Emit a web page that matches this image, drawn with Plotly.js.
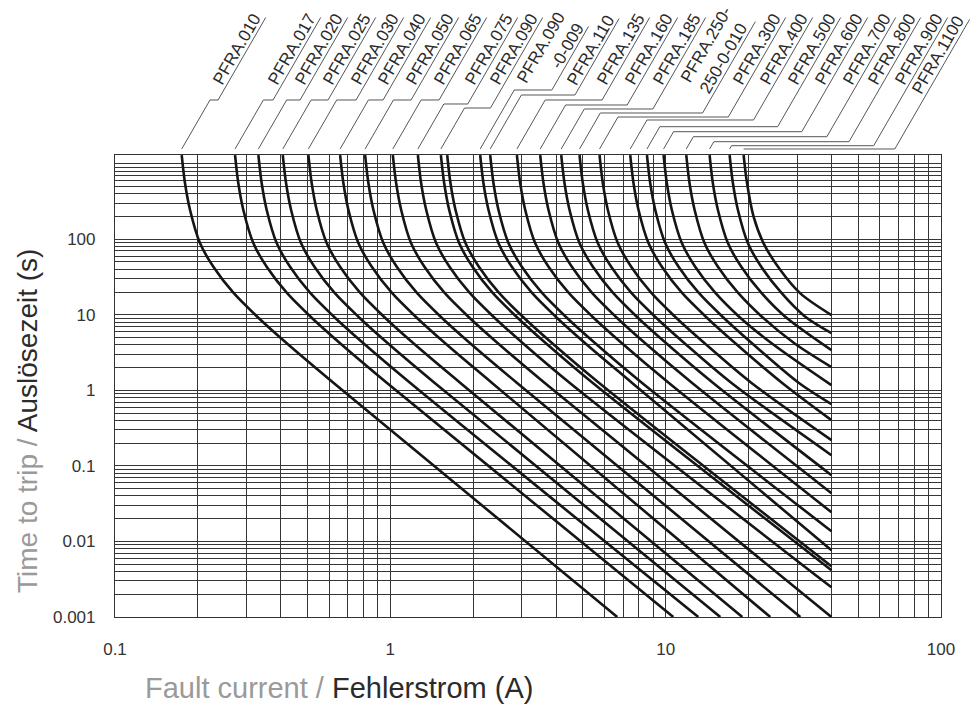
<!DOCTYPE html>
<html>
<head>
<meta charset="utf-8">
<script src="https://cdn.plot.ly/plotly-3.0.1.min.js"></script>
<style>
html,body{margin:0;padding:0;background:#fff;}
#chart{width:971px;height:709px;}
</style>
</head>
<body>
<div id="chart"></div>
<script>
// ---------- DATA: trip curves (current in A, time in s) ----------
const cur01 = [0.1747, 0.1796, 0.1873, 0.2037, 0.2276, 0.2690, 0.3272, 0.4205, 0.6211, 6.67];
const trip01 = [1300, 550, 244, 88.3, 43.2, 19.6, 9.58, 4.20, 1.26, 0.001];
const cur02 = [0.2729, 0.2805, 0.2925, 0.3182, 0.3556, 0.4203, 0.5111, 0.6569, 0.9702, 10.66];
const trip02 = [1300, 550, 244, 88.3, 43.2, 19.6, 9.58, 4.20, 1.26, 0.001];
const cur03 = [0.3317, 0.3410, 0.3556, 0.3868, 0.4322, 0.5108, 0.6213, 0.7984, 1.179, 13.14];
const trip03 = [1300, 550, 244, 88.3, 43.2, 19.6, 9.58, 4.20, 1.26, 0.001];
const cur04 = [0.4068, 0.4182, 0.4361, 0.4743, 0.5301, 0.6265, 0.7619, 0.9792, 1.446, 15.79];
const trip04 = [1300, 550, 244, 88.3, 43.2, 19.6, 9.58, 4.20, 1.26, 0.001];
const cur05 = [0.5040, 0.5181, 0.5403, 0.5877, 0.6567, 0.7762, 0.9440, 1.213, 1.792, 18.98];
const trip05 = [1300, 550, 244, 88.3, 43.2, 19.6, 9.58, 4.20, 1.26, 0.001];
const cur06 = [0.6571, 0.6755, 0.7044, 0.7662, 0.8562, 1.012, 1.231, 1.582, 2.336, 23.99];
const trip06 = [1300, 550, 244, 88.3, 43.2, 19.6, 9.58, 4.20, 1.26, 0.001];
const cur07 = [0.8099, 0.8326, 0.8682, 0.9443, 1.055, 1.247, 1.517, 1.949, 2.879, 30.84];
const trip07 = [1300, 550, 244, 88.3, 43.2, 19.6, 9.58, 4.20, 1.26, 0.001];
const cur08 = [1.021, 1.050, 1.095, 1.190, 1.330, 1.572, 1.912, 2.458, 3.630, 40];
const trip08 = [1300, 550, 244, 88.3, 43.2, 19.6, 9.58, 4.20, 1.26, 0.001];
const cur09 = [1.259, 1.294, 1.350, 1.468, 1.640, 1.939, 2.358, 3.030, 4.476, 40];
const trip09 = [1300, 550, 244, 88.3, 43.2, 19.6, 9.58, 4.20, 1.26, 0.00247];
const cur10 = [1.526, 1.569, 1.636, 1.779, 1.988, 2.350, 2.858, 3.673, 5.425, 40];
const trip10 = [1300, 550, 244, 88.3, 43.2, 19.6, 9.58, 4.20, 1.26, 0.00416];
const cur10b = [1.609, 1.654, 1.725, 1.876, 2.097, 2.478, 3.014, 3.873, 5.720, 40];
const trip10b = [1300, 550, 244, 88.3, 43.2, 19.6, 9.58, 4.20, 1.26, 0.00469];
const cur11 = [2.120, 2.179, 2.273, 2.472, 2.762, 3.265, 3.971, 5.103, 7.537, 40];
const trip11 = [1300, 550, 244, 88.3, 43.2, 19.6, 9.58, 4.20, 1.26, 0.00765];
const cur12 = [2.305, 2.370, 2.471, 2.688, 3.003, 3.550, 4.317, 5.548, 8.194, 40];
const trip12 = [1300, 550, 244, 88.3, 43.2, 19.6, 9.58, 4.20, 1.26, 0.01365];
const cur13 = [2.882, 2.963, 3.090, 3.360, 3.755, 4.438, 5.398, 6.937, 10.25, 40];
const trip13 = [1300, 550, 244, 88.3, 43.2, 19.6, 9.58, 4.20, 1.26, 0.02436];
const cur14 = [3.502, 3.600, 3.754, 4.083, 4.563, 5.393, 6.559, 8.429, 12.45, 40];
const trip14 = [1300, 550, 244, 88.3, 43.2, 19.6, 9.58, 4.20, 1.26, 0.0435];
const cur15 = [4.175, 4.292, 4.476, 4.868, 5.440, 6.430, 7.820, 10.05, 14.84, 40];
const trip15 = [1300, 550, 244, 88.3, 43.2, 19.6, 9.58, 4.20, 1.26, 0.0753];
const cur16 = [4.866, 5.002, 5.216, 5.674, 6.340, 7.494, 9.114, 11.71, 17.30, 40];
const trip16 = [1300, 550, 244, 88.3, 43.2, 19.6, 9.58, 4.20, 1.26, 0.1386];
const cur17 = [5.752, 5.913, 6.166, 6.707, 7.495, 8.858, 10.77, 13.85, 20.45, 40];
const trip17 = [1300, 550, 244, 88.3, 43.2, 19.6, 9.58, 4.20, 1.26, 0.219];
const cur18 = [7.435, 7.643, 7.970, 8.669, 9.688, 11.45, 13.93, 17.90, 26.43, 40];
const trip18 = [1300, 550, 244, 88.3, 43.2, 19.6, 9.58, 4.20, 1.26, 0.403];
const cur19 = [8.551, 8.790, 9.167, 9.970, 11.14, 13.17, 16.02, 20.58, 30.40, 40];
const trip19 = [1300, 550, 244, 88.3, 43.2, 19.6, 9.58, 4.20, 1.26, 0.657];
const cur20 = [9.826, 10.10, 10.53, 11.46, 12.80, 15.13, 18.40, 24.26, 40];
const trip20 = [1300, 550, 244, 88.3, 43.2, 19.6, 9.58, 4.20, 1.172];
const cur21 = [11.88, 12.21, 12.74, 13.85, 15.48, 18.30, 22.25, 29.33, 40];
const trip21 = [1300, 550, 244, 88.3, 43.2, 19.6, 9.58, 4.20, 2.03];
const cur22 = [14.44, 14.84, 15.48, 16.84, 18.82, 22.24, 27.05, 40];
const trip22 = [1300, 550, 244, 88.3, 43.2, 19.6, 9.58, 3.41];
const cur23 = [17.07, 17.55, 18.30, 19.90, 22.24, 26.29, 31.97, 40];
const trip23 = [1300, 550, 244, 88.3, 43.2, 19.6, 9.58, 5.72];
const cur24 = [19.19, 19.75, 20.86, 22.68, 26.09, 30.84, 40];
const trip24 = [1300, 550, 199, 88.3, 39.1, 19.2, 9.91];

// ---------- labels ----------
const LABELS = ["PFRA.010","PFRA.017","PFRA.020","PFRA.025","PFRA.030","PFRA.040","PFRA.050",
  "PFRA.065","PFRA.075","PFRA.090","PFRA.090<br>-0-009","PFRA.110","PFRA.135","PFRA.160",
  "PFRA.185","PFRA.250-<br>250-0-010","PFRA.300","PFRA.400","PFRA.500","PFRA.600","PFRA.700",
  "PFRA.800","PFRA.900","PFRA.1100"];
const X_TICKS = [0.1, 1, 10, 100];
const X_TICK_TEXT = ["0.1", "1", "10", "100"];
const Y_TICKS = [0.001, 0.01, 0.1, 1, 10, 100];
const Y_TICK_TEXT = ["0.001", "0.01", "0.1", "1", "10", "100"];

// curve list (the PFRA.090 pair forms a double line)
const CURVES = [
  [cur01,trip01,"PFRA.010"],[cur02,trip02,"PFRA.017"],[cur03,trip03,"PFRA.020"],[cur04,trip04,"PFRA.025"],
  [cur05,trip05,"PFRA.030"],[cur06,trip06,"PFRA.040"],[cur07,trip07,"PFRA.050"],[cur08,trip08,"PFRA.065"],
  [cur09,trip09,"PFRA.075"],[cur10,trip10,"PFRA.090"],[cur10b,trip10b,"PFRA.090 (2)"],[cur11,trip11,"PFRA.090-0-009"],
  [cur12,trip12,"PFRA.110"],[cur13,trip13,"PFRA.135"],[cur14,trip14,"PFRA.160"],[cur15,trip15,"PFRA.185"],
  [cur16,trip16,"PFRA.250-0-010"],[cur17,trip17,"PFRA.300"],[cur18,trip18,"PFRA.400"],[cur19,trip19,"PFRA.500"],
  [cur20,trip20,"PFRA.600"],[cur21,trip21,"PFRA.700"],[cur22,trip22,"PFRA.800"],[cur23,trip23,"PFRA.900"],
  [cur24,trip24,"PFRA.1100"]
];
// label -> curve index, knee height (px), leader x at y=88px, text start height (layout only)
const LABEL_CURVE = [0,1,2,3,4,5,6,7,8,9,11,12,13,14,15,16,17,18,19,20,21,22,23,24];
const LABEL_KNEE_Y = [100,100,100,100,100,100,100,100,104,108,90,95,100,105,109,113,117,120,126.7,131.7,136.7,141.7,145.7,149];
const LABEL_LINE_X = [225,280,307,335,363,390,418,446,477,502,553,579,609,637,665,717,745,772,800,827,855,880,907,930];
const LABEL_TEXT_Y = [88,88,88,88,88,88,88,88,88,88,97,88,88,88,88,97,88,88,88,88,88,88,88,97];

// ---------- layout geometry ----------
const W = 971, H = 709, ML = 115, MR = 30, MT = 155, MB = 92;
const PW = W - ML - MR, PH = H - MT - MB;
const XR = [-1, 2], YR = [-3, 3.115];
const GRID = '#363636';
const FONT = '"Liberation Sans", Arial, Helvetica, sans-serif';
const LABEL_FS = 17;

const px2p = px => (px - ML) / PW;
const py2p = py => (H - MB - py) / PH;
const xv2px = v => ML + (Math.log10(v) - XR[0]) / (XR[1] - XR[0]) * PW;

const traces = CURVES.map(c => ({
  x: c[0], y: c[1], name: c[2], type: 'scatter', mode: 'lines',
  line: {color: '#151515', width: 2.6, shape: 'spline', smoothing: 0.9},
  showlegend: false, hovertemplate: c[2] + '<br>%{x} A, %{y} s<extra></extra>'
}));

// minor grid positions (digits 2..9 of each decade)
const xMinor = [], yMinor = [1000];
for (let d = -1; d <= 1; d++) for (let k = 2; k <= 9; k++) xMinor.push(+(k * Math.pow(10, d)).toPrecision(3));
for (let d = -3; d <= 3; d++) for (let k = 2; k <= 9; k++) yMinor.push(+(k * Math.pow(10, d)).toPrecision(3));

// ---------- leaders + rotated labels ----------
const ctx = document.createElement('canvas').getContext('2d');
ctx.font = LABEL_FS + 'px ' + FONT;
const TAN30 = Math.tan(Math.PI / 6);
const ux = 0.5, uy = -0.866, nx = -0.866, ny = -0.5;
const shapes = [], annotations = [];
LABELS.forEach((lab, i) => {
  const curve = CURVES[LABEL_CURVE[i]];
  const lines = lab.split('<br>');
  const multi = lines.length > 1;
  const T = xv2px(curve[0][0]);
  const sy = 149, ky = LABEL_KNEE_Y[i];
  const ay = LABEL_TEXT_Y[i];
  const ax = LABEL_LINE_X[i] - (ay - 88) * TAN30;   // same leader line, text starts lower
  const k1x = T + (sy - ky) * TAN30;
  const k2x = ax - (ky - ay) * TAN30;
  const w = Math.max(...lines.map(s => ctx.measureText(s).width));
  const ex = ax + ux * (w + 3), ey = ay + uy * (w + 3);
  const pts = [[T, sy], [k1x, ky], [k2x, ky], [ex, ey]];
  const path = pts.map((p, j) => (j ? 'L' : 'M') + px2p(p[0]).toFixed(5) + ',' + py2p(p[1]).toFixed(5)).join(' ');
  shapes.push({type: 'path', xref: 'paper', yref: 'paper', path: path, line: {color: '#444', width: 0.9}});
  const perp = multi ? 20 : 9;
  const cx = ax + ux * w / 2 + nx * perp, cy = ay + uy * w / 2 + ny * perp;
  annotations.push({
    xref: 'paper', yref: 'paper', x: px2p(cx), y: py2p(cy), xanchor: 'center', yanchor: 'middle',
    text: lab, showarrow: false, textangle: -60, align: i === 10 ? 'right' : 'left',
    font: {family: FONT, size: LABEL_FS, color: '#2a2a2a'}
  });
});

// axis titles
annotations.push({
  xref: 'paper', yref: 'paper', x: px2p(28), y: py2p(421), xanchor: 'center', yanchor: 'middle',
  textangle: -90, showarrow: false,
  text: '<span style="color:#9a9a9a">Time to trip / </span><span style="color:#2b2b2b">Auslösezeit (s)</span>',
  font: {family: FONT, size: 28}
});
annotations.push({
  xref: 'paper', yref: 'paper', x: px2p(339), y: py2p(688), xanchor: 'center', yanchor: 'middle',
  showarrow: false,
  text: '<span style="color:#9a9a9a">Fault current / </span><span style="color:#2b2b2b">Fehlerstrom (A)</span>',
  font: {family: FONT, size: 29}
});

const axisCommon = {
  type: 'log', tickmode: 'array', showgrid: true, gridcolor: GRID, gridwidth: 1,
  showline: true, mirror: true, linecolor: '#333', linewidth: 1.2, zeroline: false,
  ticks: 'outside', tickcolor: 'rgba(0,0,0,0)',
  tickfont: {family: FONT, size: 17, color: '#333'}
};
const layout = {
  width: W, height: H, margin: {l: ML, r: MR, t: MT, b: MB, pad: 0},
  paper_bgcolor: '#fff', plot_bgcolor: '#fff', showlegend: false,
  font: {family: FONT, color: '#333'},
  xaxis: Object.assign({}, axisCommon, {range: XR, tickvals: X_TICKS, ticktext: X_TICK_TEXT, ticklen: 16,
    minor: {tickmode: 'array', tickvals: xMinor, showgrid: true, gridcolor: GRID, gridwidth: 1}}),
  yaxis: Object.assign({}, axisCommon, {range: YR, tickvals: Y_TICKS, ticktext: Y_TICK_TEXT, ticklen: 15,
    minor: {tickmode: 'array', tickvals: yMinor, showgrid: true, gridcolor: GRID, gridwidth: 1}}),
  shapes: shapes, annotations: annotations
};
Plotly.newPlot('chart', traces, layout, {displayModeBar: false});
</script>
</body>
</html>
